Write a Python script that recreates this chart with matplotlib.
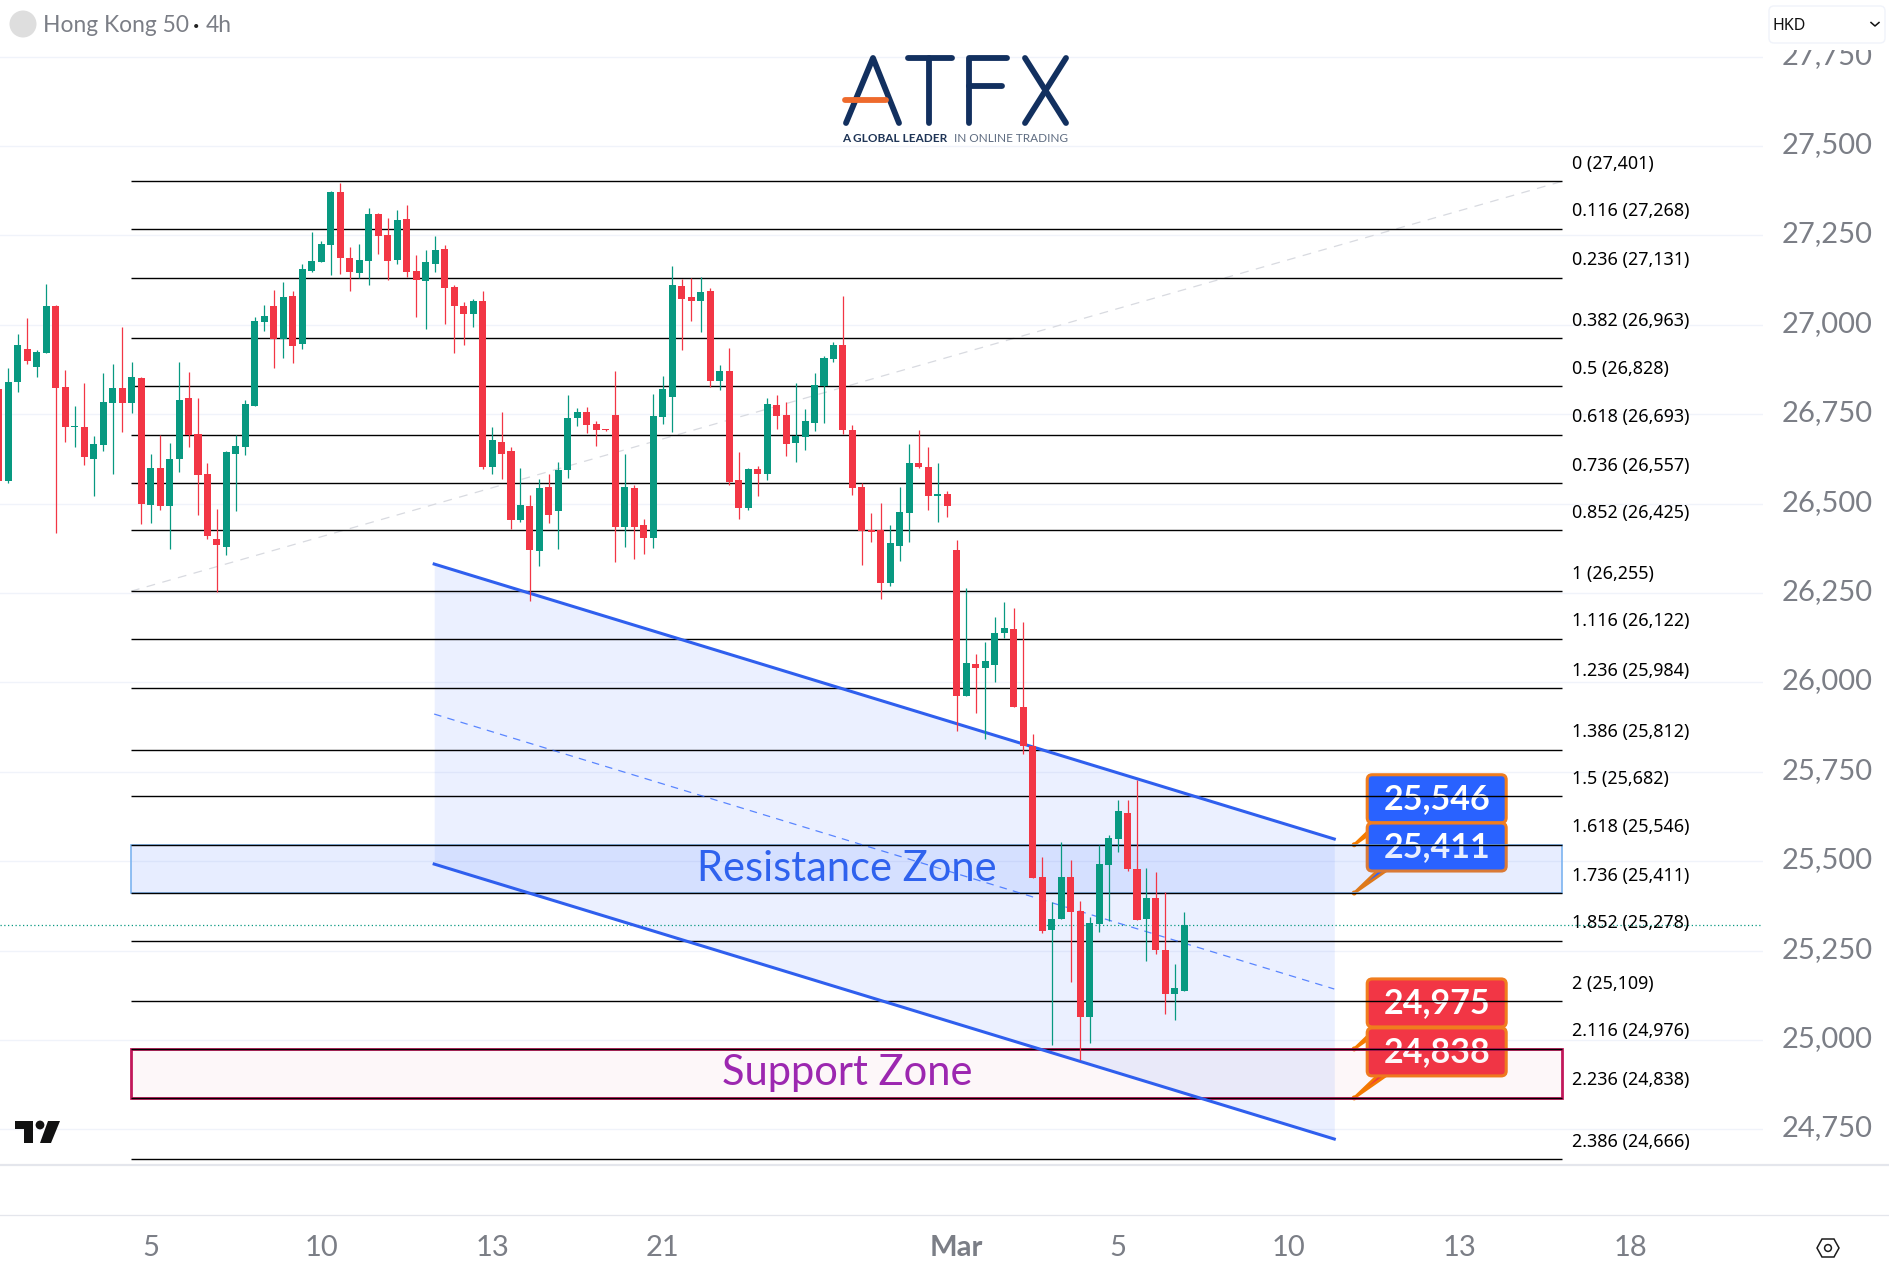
import matplotlib
matplotlib.use('Agg')
import matplotlib.pyplot as plt
from matplotlib.patches import FancyBboxPatch, Polygon, Circle, Rectangle
from matplotlib.transforms import Affine2D, ScaledTranslation
import numpy as np

WIDTH, HEIGHT = 1890, 1278

opens = [26821, 26564, 26841, 26932, 26883, 26922, 27053, 26826, 26713, 26714,
         26626, 26664, 26782, 26823, 26780, 26851, 26497, 26600, 26492, 26626,
         26795, 26695, 26583, 26401, 26380, 26639, 26659, 26774, 27008, 27053,
         26959, 27081, 26945, 27151, 27176, 27223, 27372, 27187, 27145, 27179,
         27310, 27251, 27181, 27296, 27151, 27123, 27170, 27212, 27106, 27053,
         27030, 27067, 26603, 26672, 26647, 26454, 26493, 26367, 26546, 26479,
         26594, 26739, 26756, 26722, 26708, 26748, 26434, 26544, 26440, 26404,
         26742, 26798, 27108, 27078, 27066, 27094, 26843, 26871, 26566, 26488,
         26597, 26583, 26776, 26748, 26669, 26686, 26725, 26829, 26904, 26943,
         26706, 26546, 26426, 26426, 26278, 26381, 26474, 26613, 26602, 26521,
         26527, 26370, 25963, 26052, 26041, 26050, 26138, 26149, 25931, 25822,
         25455, 25307, 25338, 25455, 25360, 25064, 25324, 25489, 25562, 25635,
         25478, 25338, 25397, 25252, 25129, 25138]
highs = [26825, 26878, 26974, 27018, 26929, 27114, 27056, 26874, 26773, 26837,
         26689, 26865, 26891, 26994, 26896, 26854, 26639, 26692, 26670, 26896,
         26868, 26795, 26614, 26485, 26646, 26692, 26790, 27022, 27056, 27097,
         27120, 27095, 27170, 27260, 27235, 27374, 27397, 27218, 27226, 27327,
         27312, 27299, 27321, 27335, 27195, 27209, 27248, 27223, 27111, 27064,
         27072, 27095, 26714, 26756, 26658, 26599, 26524, 26569, 26583, 26616,
         26804, 26767, 26770, 26731, 26709, 26871, 26639, 26552, 26457, 26806,
         26857, 27164, 27128, 27131, 27134, 27103, 26887, 26935, 26644, 26599,
         26605, 26795, 26804, 26784, 26837, 26764, 26865, 26913, 26952, 27080,
         26720, 26557, 26474, 26502, 26440, 26546, 26667, 26706, 26658, 26613,
         26535, 26397, 26264, 26079, 26112, 26182, 26224, 26208, 26168, 25855,
         25513, 25387, 25555, 25502, 25390, 25345, 25546, 25573, 25670, 25670,
         25726, 25480, 25471, 25413, 25212, 25359]
lows = [26560, 26557, 26813, 26891, 26855, 26922, 26419, 26673, 26659, 26609,
        26520, 26648, 26584, 26701, 26754, 26444, 26447, 26483, 26374, 26589,
        26659, 26469, 26402, 26254, 26355, 26480, 26636, 26774, 26983, 26880,
        26908, 26894, 26933, 27148, 27176, 27139, 27142, 27095, 27131, 27111,
        27198, 27125, 27170, 27134, 27022, 26988, 27148, 27002, 26921, 26944,
        26994, 26597, 26583, 26569, 26429, 26448, 26228, 26325, 26446, 26373,
        26571, 26717, 26697, 26661, 26703, 26337, 26379, 26345, 26359, 26376,
        26722, 26700, 26929, 27010, 26980, 26826, 26818, 26552, 26457, 26482,
        26521, 26566, 26709, 26633, 26616, 26650, 26703, 26725, 26896, 26695,
        26524, 26328, 26393, 26233, 26269, 26339, 26393, 26599, 26482, 26448,
        26462, 25865, 25963, 25915, 25843, 26002, 26124, 25930, 25801, 25454,
        25298, 24986, 25338, 25163, 24944, 24992, 25302, 25333, 25525, 25473,
        25335, 25222, 25240, 25073, 25057, 25138]
closes = [26564, 26840, 26944, 26900, 26924, 27053, 26823, 26713, 26714, 26629,
          26667, 26784, 26823, 26782, 26854, 26500, 26600, 26492, 26625, 26790,
          26692, 26581, 26408, 26383, 26644, 26661, 26779, 27011, 27025, 26959,
          27078, 26942, 27156, 27179, 27226, 27372, 27188, 27148, 27181, 27310,
          27248, 27179, 27293, 27148, 27125, 27176, 27209, 27103, 27053, 27030,
          27067, 26603, 26678, 26639, 26454, 26496, 26370, 26544, 26468, 26594,
          26739, 26756, 26720, 26706, 26706, 26434, 26546, 26434, 26404, 26745,
          26820, 27111, 27072, 27066, 27092, 26843, 26871, 26560, 26488, 26597,
          26583, 26778, 26745, 26667, 26689, 26731, 26832, 26907, 26943, 26706,
          26544, 26423, 26420, 26278, 26390, 26476, 26613, 26602, 26521, 26527,
          26493, 25963, 26055, 26041, 26059, 26139, 26152, 25930, 25823, 25454,
          25305, 25338, 25455, 25358, 25063, 25327, 25492, 25565, 25640, 25478,
          25335, 25397, 25252, 25129, 25146, 25321]

fib_ratios = ['0', '0.116', '0.236', '0.382', '0.5', '0.618', '0.736', '0.852', '1', '1.116',
              '1.236', '1.386', '1.5', '1.618', '1.736', '1.852', '2', '2.116', '2.236', '2.386']
fib_prices = [27401, 27268, 27131, 26963, 26828, 26693, 26557, 26425, 26255, 26122,
              25984, 25812, 25682, 25546, 25411, 25278, 25109, 24976, 24838, 24666]

price_ticks = [27750, 27500, 27250, 27000, 26750, 26500, 26250, 26000, 25750, 25500, 25250, 25000, 24750]
time_tick_bars = [16, 34, 52, 70, 101, 118, 136, 154, 172]
time_tick_labels = ['5', '10', '13', '21', 'Mar', '5', '10', '13', '18']

channel_bars = [45.9, 140.8]
channel_upper = [26331, 25562]
channel_lower = [25492, 24723]

zone_bars = [13.94, 164.8]
resistance_zone = [25411, 25546]
support_zone = [24838, 24976]
last_price = 25321

note_bar = 142.9
note_prices = [25546, 25411, 24975, 24838]
note_labels = ['25,546', '25,411', '24,975', '24,838']
note_colors = ['#2962ff', '#2962ff', '#f23645', '#f23645']

GREEN = '#089981'
RED = '#f23645'
BLUE = '#2962ff'
GRID = '#f0f3fa'
AXIS_TEXT = '#7b7e86'
NAVY = '#12305f'

plt.rcParams['font.family'] = ['Lato', 'DejaVu Sans']

fig = plt.figure(figsize=(WIDTH / 100, HEIGHT / 100), dpi=100, facecolor='white')
# chart pane down to the time scale, price scale sits to the right of it
ax = fig.add_axes([0, 1 - 1165 / HEIGHT, 1763 / WIDTH, 1165 / HEIGHT])
ax.set_xlim(0.124, 186.0)
ax.set_ylim(24650.4, 27908.3)
ax.set_axisbelow(True)
for side in ax.spines.values():
    side.set_visible(False)

# pixel space for the furniture that is not tied to price/time
px = Affine2D().scale(1, -1).translate(0, HEIGHT)

ax.yaxis.tick_right()
ax.set_yticks(price_ticks)
ax.set_yticklabels([f'{p:,}' for p in price_ticks], fontsize=21, color=AXIS_TEXT)
ax.set_xticks(time_tick_bars)
ax.set_xticklabels(time_tick_labels, fontsize=21, color=AXIS_TEXT)
ax.get_xticklabels()[4].set_fontweight('bold')
ax.tick_params(axis='y', length=0, pad=13.5)
ax.tick_params(axis='x', length=0, pad=50.5)
shift_up = ScaledTranslation(0, 3.5 / 100, fig.dpi_scale_trans)
for label in ax.get_yticklabels():
    label.set_transform(label.get_transform() + shift_up)
ax.grid(axis='y', color=GRID, lw=1.0)
ax.grid(axis='x', visible=False)

# trend line the fib levels were drawn from
ax.plot([zone_bars[0], zone_bars[1]], [fib_prices[8], fib_prices[0]], color='#d8dae0',
        lw=0.9, ls=(0, (7, 6)), zorder=1)

# channel
ax.fill_between(channel_bars, channel_lower, channel_upper, color=BLUE, alpha=0.09, lw=0, zorder=1.2)
ax.plot(channel_bars, channel_upper, color='#2f5fee', lw=2.2, zorder=3.5)
ax.plot(channel_bars, channel_lower, color='#2f5fee', lw=2.2, zorder=3.5)
ax.plot(channel_bars, [(a + b) / 2 for a, b in zip(channel_upper, channel_lower)],
        color=BLUE, alpha=0.75, lw=0.9, ls=(0, (6, 5)), zorder=3.5)

# price notes, placed from their anchor price
for price, label, color in zip(note_prices, note_labels, note_colors):
    tx, ty = ax.transData.transform((note_bar, price))
    ty = HEIGHT - ty
    ax.add_patch(Polygon([(tx, ty), (tx + 24, ty - 23), (tx + 33, ty - 23)], closed=True, transform=px,
                         facecolor=color, edgecolor='#f57c00', lw=2, zorder=1.6, clip_on=False))
    ax.add_patch(FancyBboxPatch((tx + 13, ty - 70), 139, 48, boxstyle='round,pad=0,rounding_size=5', transform=px,
                                facecolor=color, edgecolor='#f07d1e', lw=2.2, zorder=1.7, clip_on=False))
    ax.text(tx + 83, ty - 46, label, transform=px, color='white', fontsize=24.5, fontweight='bold',
            ha='center', va='center', zorder=1.8)
    ax.add_patch(Circle((tx, ty), 2.5, transform=px, facecolor='#f57c00', edgecolor='none', zorder=1.9))

# zones
ax.add_patch(Rectangle((zone_bars[0], resistance_zone[0]), zone_bars[1] - zone_bars[0],
                       resistance_zone[1] - resistance_zone[0], facecolor=(41 / 255, 98 / 255, 1, 0.11),
                       edgecolor='#7db4f0', lw=1.2, zorder=2))
ax.add_patch(Rectangle((zone_bars[0], support_zone[0]), zone_bars[1] - zone_bars[0],
                       support_zone[1] - support_zone[0], facecolor=(194 / 255, 24 / 255, 91 / 255, 0.03),
                       edgecolor='#c2185b', lw=2.0, zorder=2))
ax.text(sum(zone_bars) / 2 + 0.05, sum(resistance_zone) / 2, 'Resistance Zone', color='#2f62ee', fontsize=30,
        ha='center', va='center', zorder=2.2)
ax.text(sum(zone_bars) / 2 + 0.05, sum(support_zone) / 2, 'Support Zone', color='#9c27b0', fontsize=30,
        ha='center', va='center', zorder=2.2)

# fib levels and their labels
ax.hlines(fib_prices, zone_bars[0], zone_bars[1], color='black', lw=1.0, zorder=3)
for ratio, price in zip(fib_ratios, fib_prices):
    ax.annotate(f'{ratio} ({price:,})', (zone_bars[1], price), xytext=(7.6, 12.6), textcoords='offset points',
                fontsize=12.9, family='Noto Sans', color='black', va='center', zorder=3.1, annotation_clip=False)

ax.axhline(last_price, color=GREEN, lw=0.9, ls=(0, (1, 2)), zorder=1.5)

# candles
bars = np.arange(len(opens))
opens_a, closes_a = np.array(opens), np.array(closes)
colors = [GREEN if c >= o else RED for o, c in zip(opens, closes)]
ax.vlines(bars, lows, highs, color=colors, lw=0.9, zorder=4)
ax.bar(bars, np.maximum(np.abs(closes_a - opens_a), 3), bottom=np.minimum(opens_a, closes_a),
       width=0.74, color=colors, lw=0, zorder=4.1)

# header, the price scale is cut off under it
ax.add_patch(Rectangle((1763, 0), WIDTH - 1763, 50, transform=px, facecolor='white', edgecolor='none', zorder=5, clip_on=False))
ax.add_patch(Circle((23, 24), 13.5, transform=px, facecolor='#dedede', edgecolor='none', zorder=6, clip_on=False))
ax.text(43, 26, 'Hong Kong 50', transform=px, fontsize=16.4, color=AXIS_TEXT, va='center', zorder=6)
ax.text(196, 26, '•', transform=px, fontsize=8, color='#222222', ha='center', va='center', zorder=6)
ax.text(205.5, 26, '4h', transform=px, fontsize=16.4, color=AXIS_TEXT, va='center', zorder=6)
ax.add_patch(FancyBboxPatch((1769, 6), 116, 37, boxstyle='round,pad=0,rounding_size=5', transform=px,
                            facecolor='white', edgecolor=GRID, lw=1, zorder=6, clip_on=False))
ax.text(1772, 26, 'HKD', transform=px, fontsize=11.5, family='Noto Sans', color='#111111', va='center', zorder=7)
ax.plot([1871, 1875, 1879], [22.5, 26, 22.5], transform=px, color='#111111', lw=1.1, zorder=7, clip_on=False)

# ATFX logo
logo_strokes = [([846, 873, 899], [123, 58, 123]),
                ([908, 952], [58, 58]), ([929, 929], [58, 123]),
                ([1007, 969, 969], [58, 58, 123]), ([969, 1002], [86, 86]),
                ([1025, 1066], [58, 123]), ([1066, 1025], [58, 123])]
for sx, sy in logo_strokes:
    ax.plot(sx, sy, transform=px, color=NAVY, lw=4.2, solid_capstyle='round', solid_joinstyle='round',
            zorder=6, clip_on=False)
ax.plot([845, 886], [100, 100], transform=px, color='#ee6a2c', lw=4.2, solid_capstyle='round', zorder=6.1, clip_on=False)
ax.text(842, 139, 'A GLOBAL LEADER', transform=px, fontsize=8.5, fontweight='bold', color='#1f3557', va='center', zorder=6)
ax.text(954, 139, 'IN ONLINE TRADING', transform=px, fontsize=8.5, color='#5d6b80', va='center', zorder=6)

# bottom rules of the pane and of the time scale
ax.plot([0, WIDTH], [1165, 1165], transform=px, color='#e4e6ec', lw=1.6, zorder=5, clip_on=False)
ax.plot([0, WIDTH], [1215, 1215], transform=px, color='#e4e6ec', lw=0.9, zorder=5, clip_on=False)

# TradingView mark
ax.add_patch(Polygon([(15, 1121), (33, 1121), (33, 1143), (24, 1143), (24, 1129), (15, 1129)], transform=px,
                     facecolor='#111111', edgecolor='none', zorder=6))
ax.add_patch(Circle((40, 1125), 4.4, transform=px, facecolor='#111111', edgecolor='none', zorder=6))
ax.add_patch(Polygon([(48, 1121), (60, 1121), (51, 1143), (40, 1143)], transform=px,
                     facecolor='#111111', edgecolor='none', zorder=6))

# settings icon on the time scale
ax.add_patch(Polygon([(1817, 1248), (1822, 1239), (1834, 1239), (1839, 1248), (1834, 1257), (1822, 1257)], transform=px,
                     facecolor='white', edgecolor='#1c1c1c', lw=1.1, zorder=6, clip_on=False))
ax.add_patch(Circle((1828, 1248), 3.4, transform=px, facecolor='white', edgecolor='#1c1c1c', lw=1.1, zorder=6.1, clip_on=False))

fig.savefig('out.png', dpi=100, facecolor='white')
plt.close(fig)
